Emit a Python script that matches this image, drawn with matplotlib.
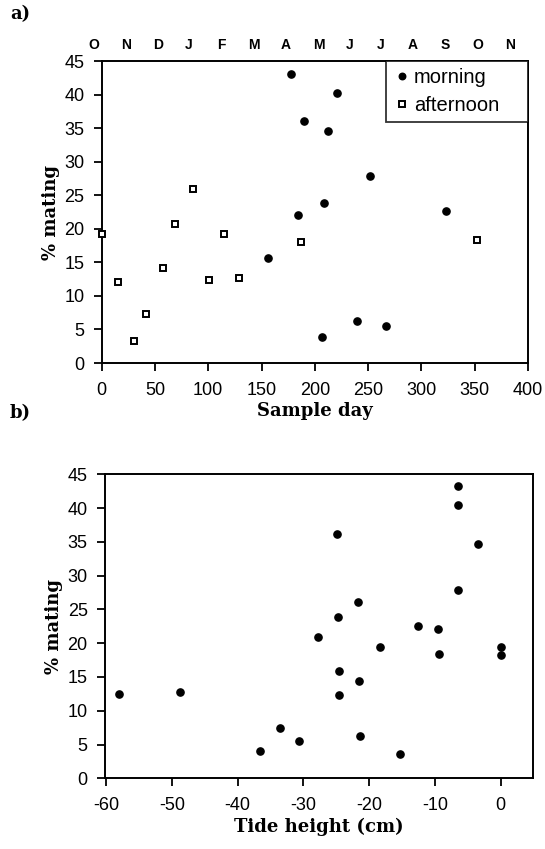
import matplotlib
matplotlib.use("Agg")
import matplotlib.pyplot as plt
import matplotlib.transforms as mtransforms

# ---- data ----
morning_day = [156, 178, 184, 190, 207, 209, 212, 221, 240, 252, 267, 323]
morning_pct = [15.6, 43.1, 22.1, 36.1, 3.9, 23.8, 34.6, 40.3, 6.2, 27.8, 5.5, 22.6]

afternoon_day = [0, 15, 30, 42, 58, 69, 86, 101, 115, 129, 187, 352]
afternoon_pct = [19.2, 12.1, 3.3, 7.3, 14.1, 20.7, 25.9, 12.4, 19.2, 12.6, 18.0, 18.3]

tide_height = [-58, -48.7, -36.6, -33.5, -30.7, -27.7, -24.8, -24.7, -24.6, -24.6,
               -21.6, -21.5, -21.4, -18.4, -15.3, -12.5, -9.5, -9.4, -6.5, -6.5,
               -6.4, -3.4, 0, 0]
tide_pct = [12.5, 12.8, 4.0, 7.5, 5.5, 20.9, 36.1, 23.9, 15.9, 12.3,
            26.1, 14.4, 6.3, 19.4, 3.6, 22.6, 22.1, 18.4, 43.2, 40.4,
            27.9, 34.7, 19.5, 18.2]

month_labels = ["O", "N", "D", "J", "F", "M", "A", "M", "J", "J", "A", "S", "O", "N"]
month_pos = [-7, 23, 53, 82, 112, 143, 173, 204, 233, 262, 292, 322, 353, 383]

day_ticks = [0, 50, 100, 150, 200, 250, 300, 350, 400]
tide_ticks = [-60, -50, -40, -30, -20, -10, 0]
pct_ticks = [0, 5, 10, 15, 20, 25, 30, 35, 40, 45]

# ---- style ----
sans = "Liberation Sans"
serif = "DejaVu Serif"
plt.rcParams["font.family"] = sans
plt.rcParams["axes.unicode_minus"] = False

fig = plt.figure(figsize=(5.45, 8.49), dpi=100)
fig.patch.set_facecolor("white")

def style_axes(ax):
    for s in ax.spines.values():
        s.set_linewidth(1.4)
    ax.tick_params(direction="out", length=5.5, width=1.3, labelsize=13)
    ax.tick_params(axis="x", pad=8)
    ax.tick_params(axis="y", pad=7)
    for lab in ax.get_xticklabels() + ax.get_yticklabels():
        lab.set_fontfamily(sans)

label_kw = dict(fontfamily=serif, fontweight="bold", fontsize=13)

# ---- panel a ----
ax1 = fig.add_axes([0.1866, 0.5724, 0.782, 0.3557])
ax1.plot(morning_day, morning_pct, linestyle="none", marker="o", ms=5.2,
         mfc="black", mec="black", label="morning", clip_on=False, zorder=3)
ax1.plot(afternoon_day, afternoon_pct, linestyle="none", marker="s", ms=4.8,
         mfc="white", mec="black", mew=1.4, label="afternoon", clip_on=False, zorder=3)
ax1.set_xlim(0, 400)
ax1.set_ylim(0, 45)
ax1.set_xticks(day_ticks)
ax1.set_yticks(pct_ticks)
style_axes(ax1)
ax1.set_xlabel("Sample day", labelpad=2, **label_kw)
ax1.set_ylabel("% mating", labelpad=3, **label_kw)

leg = ax1.legend(loc="upper right", bbox_to_anchor=(0.667, 0.0, 0.333, 1.0),
                 mode="expand", borderaxespad=0, frameon=True, fancybox=False,
                 edgecolor="black", fontsize=14.5, handlelength=0.9, handletextpad=0.15,
                 borderpad=0.35, labelspacing=0.45, markerscale=0.9)
leg.get_frame().set_linewidth(1.3)

trans = mtransforms.blended_transform_factory(ax1.transData, ax1.transAxes)
for pos, lab in zip(month_pos, month_labels):
    ax1.text(pos, 1.053, lab, transform=trans, ha="center", va="center",
             fontsize=10, fontweight="bold", fontfamily=sans, clip_on=False)

fig.text(0.018, 0.984, "a)", fontfamily=serif, fontweight="bold", fontsize=13,
         ha="left", va="center")

# ---- panel b ----
ax2 = fig.add_axes([0.1927, 0.0833, 0.7848, 0.358])
ax2.plot(tide_height, tide_pct, linestyle="none", marker="o", ms=5.2,
         mfc="black", mec="black", clip_on=False, zorder=3)
ax2.set_xlim(-60.15, 4.9)
ax2.set_ylim(0, 45)
ax2.set_xticks(tide_ticks)
ax2.set_yticks(pct_ticks)
style_axes(ax2)
ax2.set_xlabel("Tide height (cm)", labelpad=3, **label_kw)
ax2.set_ylabel("% mating", labelpad=3, **label_kw)

fig.text(0.018, 0.514, "b)", fontfamily=serif, fontweight="bold", fontsize=13,
         ha="left", va="center")

fig.savefig("out.png", dpi=100, facecolor="white")
